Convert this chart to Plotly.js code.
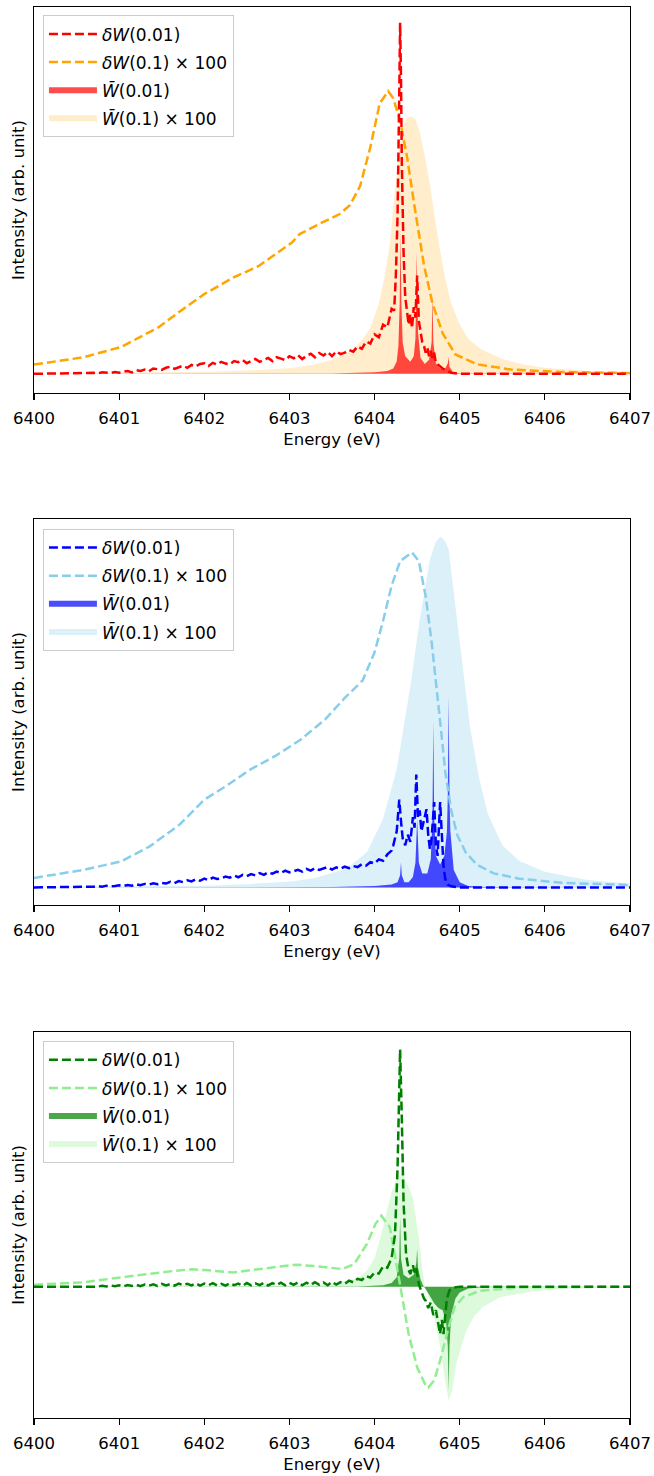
<!DOCTYPE html>
<html><head><meta charset="utf-8">
<script src="https://cdn.plot.ly/plotly-3.0.1.min.js"></script>
<style>body{margin:0;padding:0;background:#fff}#plot{width:654px;height:1476px}</style>
</head><body><div id="plot"></div>
<script>
// ---------- shared energy grid for the noisy low-energy tail (eV) ----------
const noiseE = [6400.70,6400.75,6400.80,6400.85,6400.90,6400.95,6401.00,6401.05,6401.10,6401.15,
 6401.20,6401.25,6401.30,6401.35,6401.40,6401.45,6401.50,6401.55,6401.60,6401.65,
 6401.70,6401.75,6401.80,6401.85,6401.90,6401.95,6402.00,6402.05,6402.10,6402.15,
 6402.20,6402.25,6402.30,6402.35,6402.40,6402.45,6402.50,6402.55,6402.60,6402.65,
 6402.70,6402.75,6402.80,6402.85,6402.90,6402.95,6403.00,6403.05,6403.10,6403.15,
 6403.20,6403.25,6403.30,6403.35,6403.40,6403.45,6403.50,6403.55,6403.60,6403.65,
 6403.70,6403.75,6403.80,6403.85,6403.90,6403.95,6404.00,6404.05,6404.10,6404.15,6404.20];

// ---------- Panel 1 (red / orange) ----------
const p1_dW001_headE = [6400.00,6400.30,6400.60];
const p1_dW001_headV = [0.000,0.000,0.002];
const p1_dW001_noise = [0.003,0.001,0.004,0.003,0.002,0.005,0.003,0.006,0.008,0.004,
 0.010,0.008,0.012,0.007,0.015,0.013,0.011,0.017,0.020,0.014,
 0.019,0.023,0.017,0.025,0.021,0.028,0.030,0.022,0.031,0.026,
 0.034,0.029,0.027,0.036,0.033,0.039,0.030,0.037,0.042,0.034,
 0.040,0.045,0.036,0.047,0.043,0.039,0.050,0.044,0.053,0.042,
 0.051,0.057,0.047,0.059,0.052,0.062,0.050,0.064,0.056,0.060,
 0.068,0.063,0.078,0.071,0.092,0.086,0.112,0.104,0.140,0.132,0.185];
const p1_dW001_peakE = [6404.23,6404.25,6404.27,6404.29,6404.30,6404.31,6404.32,6404.34,6404.36,6404.38,6404.40,6404.42,6404.44,6404.46,6404.48,6404.50,6404.52,6404.54,6404.56,6404.58,6404.60,6404.62,6404.64,6404.66,6404.68,6404.70,6404.72,6404.75,6404.80,6404.85,6404.90,6405.00,6407.00];
const p1_dW001_peakV = [0.180,0.280,0.450,0.800,1.000,0.850,0.600,0.350,0.220,0.180,0.140,0.170,0.130,0.190,0.160,0.280,0.150,0.120,0.090,0.080,0.060,0.075,0.050,0.065,0.045,0.060,0.030,0.025,0.015,0.008,0.003,0.000,0.000];

const p1_dW01E = [6400.00,6400.58,6401.02,6401.46,6401.75,6402.00,6402.34,6402.64,6403.03,6403.12,6403.36,6403.59,6403.71,6403.83,6403.95,6404.06,6404.16,6404.22,6404.30,6404.38,6404.48,6404.58,6404.68,6404.80,6404.95,6405.20,6405.60,6406.20,6407.00];
const p1_dW01V = [0.026,0.047,0.076,0.132,0.184,0.227,0.274,0.307,0.374,0.398,0.428,0.455,0.480,0.535,0.645,0.770,0.805,0.785,0.720,0.620,0.460,0.310,0.200,0.115,0.055,0.027,0.012,0.005,0.002];

const p1_Wb001E = [6400.00,6403.50,6404.00,6404.15,6404.22,6404.26,6404.28,6404.295,6404.305,6404.315,6404.33,6404.36,6404.42,6404.46,6404.48,6404.495,6404.51,6404.54,6404.59,6404.64,6404.67,6404.68,6404.69,6404.72,6404.77,6404.83,6404.86,6404.87,6404.88,6404.92,6405.00,6407.00];
const p1_Wb001V = [0.000,0.001,0.004,0.008,0.015,0.035,0.080,0.200,0.400,0.200,0.090,0.050,0.034,0.050,0.100,0.347,0.120,0.045,0.028,0.040,0.090,0.222,0.090,0.030,0.015,0.015,0.030,0.048,0.020,0.005,0.001,0.000];

const p1_Wb01E = [6400.00,6401.00,6402.00,6402.50,6403.00,6403.30,6403.50,6403.70,6403.85,6403.95,6404.05,6404.12,6404.18,6404.23,6404.28,6404.33,6404.38,6404.43,6404.48,6404.53,6404.59,6404.65,6404.71,6404.77,6404.83,6404.90,6405.00,6405.10,6405.25,6405.50,6405.75,6406.00,6406.50,6407.00];
const p1_Wb01V = [0.001,0.003,0.006,0.009,0.016,0.026,0.040,0.062,0.095,0.130,0.200,0.280,0.370,0.500,0.620,0.700,0.728,0.733,0.725,0.690,0.620,0.540,0.440,0.350,0.270,0.200,0.140,0.100,0.070,0.042,0.026,0.017,0.008,0.004];

// ---------- Panel 2 (blue / skyblue) ----------
const p2_dW001_headE = [6400.00,6400.30,6400.60];
const p2_dW001_headV = [0.000,0.000,0.001];
const p2_dW001_noise = [0.002,0.004,0.002,0.005,0.003,0.004,0.006,0.004,0.007,0.005,
 0.009,0.006,0.010,0.008,0.012,0.009,0.013,0.011,0.016,0.012,
 0.018,0.015,0.020,0.017,0.023,0.019,0.025,0.021,0.028,0.024,
 0.026,0.031,0.028,0.034,0.029,0.036,0.032,0.038,0.034,0.041,
 0.036,0.043,0.039,0.045,0.041,0.048,0.043,0.046,0.050,0.045,
 0.053,0.048,0.055,0.050,0.054,0.058,0.051,0.057,0.053,0.059,
 0.055,0.061,0.058,0.066,0.062,0.072,0.068,0.080,0.076,0.094,0.105];
const p2_dW001_peakE = [6404.22,6404.26,6404.29,6404.31,6404.33,6404.36,6404.39,6404.42,6404.45,6404.47,6404.49,6404.51,6404.53,6404.55,6404.58,6404.61,6404.63,6404.65,6404.67,6404.70,6404.72,6404.74,6404.77,6404.79,6404.81,6404.83,6404.86,6404.90,6405.00,6407.00];
const p2_dW001_peakV = [0.120,0.160,0.250,0.190,0.140,0.120,0.150,0.130,0.200,0.170,0.322,0.200,0.220,0.160,0.190,0.223,0.150,0.109,0.140,0.243,0.120,0.090,0.243,0.140,0.060,0.024,0.008,0.003,0.000,0.000];

const p2_dW01E = [6400.00,6400.58,6401.02,6401.36,6401.71,6402.00,6402.25,6402.54,6402.83,6403.13,6403.42,6403.65,6403.86,6404.00,6404.10,6404.20,6404.30,6404.44,6404.52,6404.60,6404.67,6404.73,6404.78,6404.83,6404.90,6404.97,6405.07,6405.20,6405.40,6405.70,6406.20,6407.00];
const p2_dW01V = [0.027,0.050,0.074,0.117,0.179,0.250,0.288,0.336,0.374,0.421,0.479,0.540,0.590,0.670,0.760,0.860,0.930,0.955,0.930,0.830,0.700,0.570,0.450,0.330,0.220,0.150,0.100,0.065,0.040,0.025,0.013,0.007];

const p2_Wb001E = [6400.00,6403.50,6404.00,6404.20,6404.27,6404.30,6404.31,6404.32,6404.35,6404.40,6404.45,6404.48,6404.50,6404.52,6404.56,6404.62,6404.66,6404.68,6404.69,6404.70,6404.72,6404.77,6404.82,6404.85,6404.86,6404.87,6404.88,6404.89,6404.93,6405.00,6405.10,6405.30,6407.00];
const p2_Wb001V = [0.000,0.001,0.004,0.008,0.015,0.035,0.072,0.035,0.015,0.015,0.030,0.070,0.195,0.070,0.040,0.040,0.080,0.200,0.474,0.200,0.090,0.065,0.090,0.160,0.260,0.545,0.260,0.160,0.050,0.015,0.004,0.001,0.000];

const p2_Wb01E = [6400.00,6401.00,6402.05,6402.50,6403.03,6403.30,6403.67,6403.91,6404.10,6404.26,6404.42,6404.53,6404.65,6404.71,6404.77,6404.82,6404.87,6404.96,6405.04,6405.12,6405.22,6405.33,6405.50,6405.70,6406.00,6406.50,6407.00];
const p2_Wb01V = [0.001,0.003,0.005,0.009,0.017,0.027,0.053,0.100,0.195,0.337,0.573,0.763,0.935,0.980,1.000,0.990,0.964,0.780,0.620,0.460,0.320,0.210,0.120,0.075,0.045,0.021,0.011];

// ---------- Panel 3 (green / lightgreen) ----------
const p3_dW001_headE = [6400.00,6400.40];
const p3_dW001_headV = [0.000,0.001];
const p3_dW001_noise = [0.002,0.000,0.004,0.001,0.005,0.002,0.006,0.001,0.007,0.003,
 0.008,0.002,0.009,0.004,0.010,0.003,0.012,0.005,0.011,0.004,
 0.013,0.006,0.012,0.005,0.014,0.004,0.013,0.006,0.015,0.005,
 0.012,0.004,0.014,0.006,0.013,0.003,0.015,0.005,0.014,0.006,
 0.016,0.005,0.015,0.007,0.017,0.006,0.016,0.008,0.018,0.006,
 0.017,0.007,0.019,0.008,0.018,0.006,0.020,0.009,0.019,0.012,
 0.025,0.018,0.033,0.028,0.045,0.038,0.060,0.055,0.085,0.080,0.120];
const p3_dW001_peakE = [6404.24,6404.27,6404.29,6404.30,6404.32,6404.34,6404.37,6404.40,6404.42,6404.45,6404.47,6404.49,6404.52,6404.55,6404.58,6404.60,6404.63,6404.66,6404.69,6404.72,6404.75,6404.77,6404.79,6404.81,6404.83,6404.85,6404.88,6404.92,6405.00,6407.00];
const p3_dW001_peakV = [0.220,0.500,0.780,1.000,0.710,0.360,0.137,0.070,0.053,0.090,0.060,0.080,0.010,-0.017,-0.050,-0.059,-0.090,-0.067,-0.120,-0.100,-0.160,-0.200,-0.140,-0.200,-0.120,-0.050,-0.015,-0.005,0.000,0.000];

const p3_dW01E = [6400.00,6400.58,6401.02,6401.31,6401.66,6401.85,6402.00,6402.34,6402.64,6403.03,6403.10,6403.32,6403.62,6403.76,6403.91,6404.01,6404.08,6404.18,6404.25,6404.33,6404.40,6404.50,6404.60,6404.63,6404.70,6404.77,6404.87,6404.94,6405.04,6405.24,6405.73,6407.00];
const p3_dW01V = [0.008,0.018,0.039,0.053,0.067,0.073,0.070,0.060,0.074,0.091,0.092,0.086,0.074,0.095,0.180,0.264,0.299,0.250,0.109,-0.059,-0.200,-0.340,-0.417,-0.426,-0.396,-0.311,-0.171,-0.087,-0.045,-0.017,-0.003,0.000];

const p3_Wb001E = [6400.00,6403.80,6404.10,6404.20,6404.26,6404.29,6404.30,6404.31,6404.34,6404.40,6404.46,6404.49,6404.50,6404.51,6404.54,6404.57,6404.60,6404.65,6404.70,6404.75,6404.80,6404.84,6404.86,6404.87,6404.88,6404.90,6404.95,6405.00,6405.10,6405.30,6407.00];
const p3_Wb001V = [0.000,0.001,0.006,0.015,0.040,0.120,0.290,0.120,0.050,0.035,0.050,0.100,0.160,0.080,0.030,0.005,-0.010,-0.040,-0.070,-0.090,-0.100,-0.150,-0.250,-0.437,-0.250,-0.120,-0.050,-0.025,-0.008,-0.002,0.000];

const p3_Wb01E = [6400.00,6402.00,6403.00,6403.50,6403.80,6403.91,6404.00,6404.10,6404.20,6404.27,6404.33,6404.39,6404.45,6404.53,6404.56,6404.59,6404.65,6404.69,6404.77,6404.83,6404.87,6404.91,6404.96,6405.02,6405.08,6405.17,6405.27,6405.47,6405.86,6406.30,6407.00];
const p3_Wb01V = [0.000,0.001,0.004,0.012,0.035,0.067,0.120,0.250,0.400,0.460,0.474,0.430,0.376,0.180,0.080,0.000,-0.060,-0.115,-0.255,-0.400,-0.480,-0.440,-0.325,-0.250,-0.185,-0.125,-0.087,-0.045,-0.020,-0.008,-0.003];

const legendLabels = ['<i>δW</i>(0.01)', '<i>δW</i>(0.1) × 100', '<i>W̄</i>(0.01)', '<i>W̄</i>(0.1) × 100'];
const tickVals = [6400,6401,6402,6403,6404,6405,6406,6407];

function dashed(x, y, color, name, ax, leg, rank) {
  return {x:x, y:y, type:'scatter', mode:'lines', name:name, xaxis:ax[0], yaxis:ax[1], legend:leg,
    legendgroup:leg+name, legendrank:rank, line:{color:color, width:2.5, dash:'9px,4px'}, hoverinfo:'skip'};
}
function filled(x, y, color, name, ax, leg, rank) {
  return {x:x, y:y, type:'scatter', mode:'none', fill:'tozeroy', fillcolor:color, name:name,
    xaxis:ax[0], yaxis:ax[1], legend:leg, legendgroup:leg+name, legendrank:rank, hoverinfo:'skip'};
}
const panels = [
  {ax:['x','y'], leg:'legend', c:['rgb(255,0,0)','rgb(255,165,0)','rgba(255,0,0,0.7)','rgba(255,165,0,0.2)'],
   d1:[p1_dW001_headE.concat(noiseE,p1_dW001_peakE), p1_dW001_headV.concat(p1_dW001_noise,p1_dW001_peakV)],
   d2:[p1_dW01E,p1_dW01V], f1:[p1_Wb001E,p1_Wb001V], f2:[p1_Wb01E,p1_Wb01V]},
  {ax:['x2','y2'], leg:'legend2', c:['rgb(0,0,255)','rgb(135,206,235)','rgba(0,0,255,0.7)','rgba(135,206,235,0.3)'],
   d1:[p2_dW001_headE.concat(noiseE,p2_dW001_peakE), p2_dW001_headV.concat(p2_dW001_noise,p2_dW001_peakV)],
   d2:[p2_dW01E,p2_dW01V], f1:[p2_Wb001E,p2_Wb001V], f2:[p2_Wb01E,p2_Wb01V]},
  {ax:['x3','y3'], leg:'legend3', c:['rgb(0,128,0)','rgb(144,238,144)','rgba(0,128,0,0.7)','rgba(144,238,144,0.3)'],
   d1:[p3_dW001_headE.concat(noiseE,p3_dW001_peakE), p3_dW001_headV.concat(p3_dW001_noise,p3_dW001_peakV)],
   d2:[p3_dW01E,p3_dW01V], f1:[p3_Wb001E,p3_Wb001V], f2:[p3_Wb01E,p3_Wb01V]}
];
const data = [];
panels.forEach(p => {
  data.push(filled(p.f2[0], p.f2[1], p.c[3], legendLabels[3], p.ax, p.leg, 4));
  data.push(filled(p.f1[0], p.f1[1], p.c[2], legendLabels[2], p.ax, p.leg, 3));
  data.push(dashed(p.d2[0], p.d2[1], p.c[1], legendLabels[1], p.ax, p.leg, 2));
  data.push(dashed(p.d1[0], p.d1[1], p.c[0], legendLabels[0], p.ax, p.leg, 1));
});

const FONT = 'DejaVu Sans, sans-serif';
function xax(anchor) {
  return {anchor:anchor, domain:[0,1], range:[6400,6407], tickmode:'array', tickvals:tickVals,
    ticktext:tickVals.map(String), ticks:'outside', ticklen:6, tickwidth:1.2, tickcolor:'#000',
    ticklabelstandoff:4,
    showline:true, mirror:true, linecolor:'#000', linewidth:1.2, showgrid:false, zeroline:false,
    tickfont:{family:FONT, size:16.5, color:'#000'},
    title:{text:'Energy (eV)', font:{family:FONT, size:16.5, color:'#000'}, standoff:6}, automargin:false};
}
function yax(anchor, dom, rng) {
  return {anchor:anchor, domain:dom, range:rng, showticklabels:false, ticks:'', showgrid:false,
    zeroline:false, showline:true, mirror:true, linecolor:'#000', linewidth:1.2,
    title:{text:'Intensity (arb. unit)', font:{family:FONT, size:16.5, color:'#000'}, standoff:4}, automargin:false};
}
function leg(y) {
  return {x:0.015, y:y, xref:'paper', yref:'paper', xanchor:'left', yanchor:'top',
    bgcolor:'rgba(255,255,255,0.8)', bordercolor:'#cccccc', borderwidth:1, itemwidth:48,
    font:{family:FONT, size:17, color:'#000'}, traceorder:'grouped', tracegroupgap:3};
}
const layout = {
  width:654, height:1476, margin:{l:34, r:24, t:7, b:58},
  paper_bgcolor:'#fff', plot_bgcolor:'#fff', showlegend:true,
  font:{family:FONT, size:16.5, color:'#000'},
  xaxis:xax('y'), yaxis:yax('x',[0.7264,1],[-0.055,1.045]),
  xaxis2:xax('y2'), yaxis2:yax('x2',[0.3636,0.6371],[-0.05,1.05]),
  xaxis3:xax('y3'), yaxis3:yax('x3',[0,0.2736],[-0.554,1.074]),
  legend:leg(0.994), legend2:leg(0.630), legend3:leg(0.267)
};
Plotly.newPlot('plot', data, layout, {staticPlot:true, displayModeBar:false});
</script></body></html>
